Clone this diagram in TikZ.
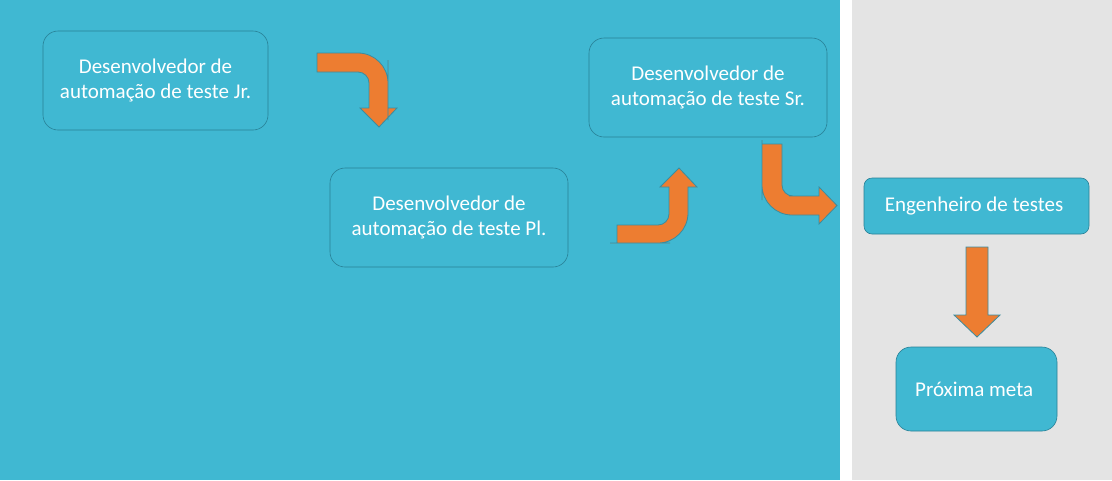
\documentclass[tikz,border=0pt]{standalone}
\usepackage{fontspec}
\setmainfont{Carlito}
\usepackage{tikz}

\definecolor{bgblue}{RGB}{64,184,210}
\definecolor{bggray}{RGB}{228,228,228}
\definecolor{boxline}{RGB}{40,128,150}
\definecolor{arroworange}{RGB}{237,125,49}
\definecolor{arrowline}{RGB}{58,141,160}

\begin{document}
\begin{tikzpicture}
      [x=1pt, y=-1pt,
       stage/.style={
           rectangle,
           rounded corners=15pt,
           draw=boxline, fill=bgblue, line width=0.6pt,
           text=white, align=center,
           font=\fontsize{21}{25}\selectfont,
           inner sep=0pt
         },
       bentarrow/.style={
           fill=arroworange, draw=arrowline, line width=0.8pt
         },
       ]
    \useasboundingbox (0,0) rectangle (1112,480);
    \fill [bgblue] (0,0) rectangle (840,480);
    \fill [bggray] (852,0) rectangle (1112,480);

    \node [stage, minimum width=225pt, minimum height=99pt] (jr) at (155.5,80.5) {
      Desenvolvedor de\\automação de teste Jr.
    };

    \node [stage, minimum width=238pt, minimum height=99pt] (pl) at (449,217.5) {
      Desenvolvedor de\\automação de teste Pl.
    };

    \node [stage, minimum width=238pt, minimum height=99pt] (sr) at (708,87.5) {
      Desenvolvedor de\\automação de teste Sr.
    };

    \node [stage, rounded corners=8pt, minimum width=225pt, minimum height=56pt] (eng) at (976.5,206) {
      Engenheiro de testes
    };

    \node [stage, minimum width=161pt, minimum height=84pt] (meta) at (976.5,389) {
      Próxima meta
    };

    % Jr -> Pl
    \draw [bentarrow] (317,53) {[rounded corners=30pt] -- (388,53) -- (388,90)} -- (388,108)
      -- (397,108) -- (379,127) -- (360,108) -- (369,108)
      {[rounded corners=11pt] -- (369,72) -- (330,72)} -- (317,72) -- cycle;

    % Pl -> Sr
    \draw [bentarrow] (617,225) {[rounded corners=11pt] -- (669,225) -- (669,200)} -- (669,187)
      -- (660,187) -- (679,168) -- (697,187) -- (688,187)
      {[rounded corners=30pt] -- (688,243) -- (640,243)} -- (617,243) -- cycle;

    % Sr -> Engenheiro
    \draw [bentarrow] (762,144) -- (782,144) {[rounded corners=11pt] -- (782,196) -- (800,196)} -- (819,196)
      -- (819,187) -- (837,205.5) -- (819,224) -- (819,215)
      {[rounded corners=30pt] -- (762,215) -- (762,170)} -- cycle;

    % Engenheiro -> meta
    \draw [bentarrow] (966,247) -- (988,247) -- (988,315) -- (1000,315)
      -- (977,337) -- (954,315) -- (966,315) -- cycle;
  \end{tikzpicture}
\end{document}
